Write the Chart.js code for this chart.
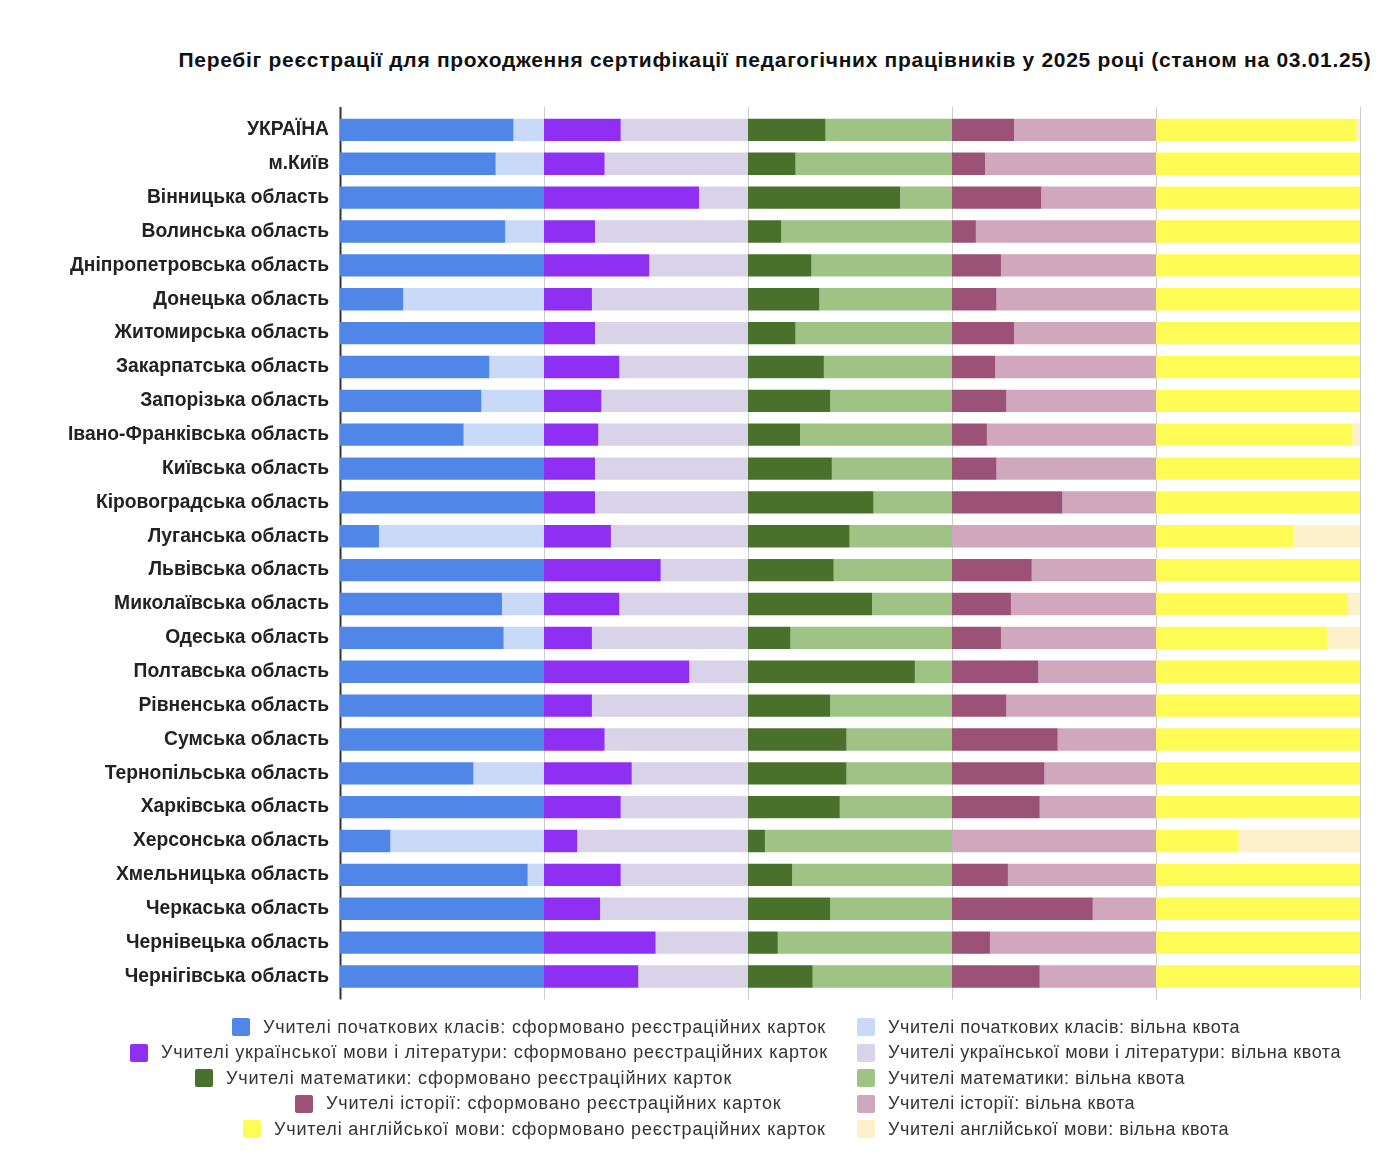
<!DOCTYPE html>
<html lang="uk">
<head>
<meta charset="utf-8">
<script src="https://cdn.jsdelivr.net/npm/chart.js@4/dist/chart.umd.min.js"></script>
<style>
  html, body { margin: 0; padding: 0; background: #fff; }
  body { width: 1394px; height: 1158px; position: relative; overflow: hidden; font-family: "Liberation Sans", Arial, sans-serif; }
  #title { position: absolute; top: 48px; left: 775px; transform: translateX(-50%); white-space: nowrap;
           font: bold 21px "Liberation Sans", Arial, sans-serif; letter-spacing: 0.7px; color: #111; line-height: 24px; }
  #wrap { position: absolute; left: 0; top: 0; width: 1394px; height: 1016px; }
  #legend { position: absolute; left: 0; top: 0; width: 1394px; height: 1158px; pointer-events: none; }
  .li { position: absolute; display: flex; align-items: center; height: 24px; font: 18px "Liberation Sans", Arial, sans-serif; letter-spacing: 0.8px; color: #333; white-space: nowrap; }
  .li.r { letter-spacing: 0.55px; }
  .li .box { width: 18px; height: 18px; border-radius: 2px; margin-right: 13px; flex: none; }
</style>
</head>
<body>
<div id="title">Перебіг реєстрації для проходження сертифікації педагогічних працівників у 2025 році (станом на 03.01.25)</div>
<div id="wrap"><canvas id="c" width="1394" height="1016"></canvas></div>
<div id="legend"></div>
<script>
const categories = ['УКРАЇНА','м.Київ','Вінницька область','Волинська область','Дніпропетровська область','Донецька область','Житомирська область','Закарпатська область','Запорізька область','Івано-Франківська область','Київська область','Кіровоградська область','Луганська область','Львівська область','Миколаївська область','Одеська область','Полтавська область','Рівненська область','Сумська область','Тернопільська область','Харківська область','Херсонська область','Хмельницька область','Черкаська область','Чернівецька область','Чернігівська область'];

const primaryFilled = [85, 76.3, 100, 81, 100, 31, 100, 73.2, 69.3, 60.6, 100, 100, 19.1, 100, 79.4, 80.2, 100, 100, 100, 65.4, 100, 24.7, 92, 100, 100, 100];
const primaryFree   = [15, 23.7, 0, 19, 0, 69, 0, 26.8, 30.7, 39.4, 0, 0, 80.9, 0, 20.6, 19.8, 0, 0, 0, 34.6, 0, 75.3, 8, 0, 0, 0];
const ukrFilled     = [37.6, 29.7, 76, 25, 51.6, 23.5, 25, 36.9, 28.1, 26.6, 25, 25, 32.8, 57.2, 36.9, 23.5, 71.2, 23.5, 29.7, 43, 37.6, 16.3, 37.6, 27.5, 54.7, 46.2];
const ukrFree       = [62.4, 70.3, 24, 75, 48.4, 76.5, 75, 63.1, 71.9, 73.4, 75, 75, 67.2, 42.8, 63.1, 76.5, 28.8, 76.5, 70.3, 57, 62.4, 83.7, 62.4, 72.5, 45.3, 53.8];
const mathFilled    = [38, 23.3, 74.6, 16.3, 31.1, 35, 23.3, 37.2, 40.3, 25.5, 41.1, 61.5, 49.8, 42, 60.8, 20.8, 81.8, 40.3, 48.3, 48.3, 45, 8.3, 21.6, 40.3, 14.6, 31.7];
const mathFree      = [62, 76.7, 25.4, 83.7, 68.9, 65, 76.7, 62.8, 59.7, 74.5, 58.9, 38.5, 50.2, 58, 39.2, 79.2, 18.2, 59.7, 51.7, 51.7, 55, 91.7, 78.4, 59.7, 85.4, 68.3];
const histFilled    = [30.5, 16.2, 43.8, 11.7, 24, 21.8, 30.5, 21.2, 26.6, 17.1, 21.8, 54.1, 0, 39.1, 28.9, 24, 42.3, 26.6, 51.8, 45.3, 43, 0, 27.4, 69, 18.6, 43];
const histFree      = [69.5, 83.8, 56.2, 88.3, 76, 78.2, 69.5, 78.8, 73.4, 82.9, 78.2, 45.9, 100, 60.9, 71.1, 76, 57.7, 73.4, 48.2, 54.7, 57, 100, 72.6, 31, 81.4, 57];
const engFilled     = [98.3, 100, 100, 100, 100, 100, 100, 100, 100, 96.3, 100, 100, 67.3, 100, 94.1, 83.8, 100, 100, 100, 100, 100, 40.5, 100, 100, 100, 100];
const engFree       = [1.7, 0, 0, 0, 0, 0, 0, 0, 0, 3.7, 0, 0, 32.7, 0, 5.9, 16.2, 0, 0, 0, 0, 0, 59.5, 0, 0, 0, 0];

const gridTicks = [0, 100, 200, 300, 400, 500];

const seriesDefs = [
  { label: 'Учителі початкових класів: сформовано реєстраційних карток', data: primaryFilled, color: '#4f86e8' },
  { label: 'Учителі початкових класів: вільна квота', data: primaryFree, color: '#c9daf8' },
  { label: 'Учителі української мови і літератури: сформовано реєстраційних карток', data: ukrFilled, color: '#8f2ff3' },
  { label: 'Учителі української мови і літератури: вільна квота', data: ukrFree, color: '#d9d3e9' },
  { label: 'Учителі математики: сформовано реєстраційних карток', data: mathFilled, color: '#4a712b' },
  { label: 'Учителі математики: вільна квота', data: mathFree, color: '#9ec385' },
  { label: 'Учителі історії: сформовано реєстраційних карток', data: histFilled, color: '#9b5276' },
  { label: 'Учителі історії: вільна квота', data: histFree, color: '#d0a7bd' },
  { label: 'Учителі англійської мови: сформовано реєстраційних карток', data: engFilled, color: '#fffb55' },
  { label: 'Учителі англійської мови: вільна квота', data: engFree, color: '#fdf1cc' }
];

const gridPlugin = {
  id: 'gridExt',
  beforeDatasetsDraw(chart) {
    const ctx = chart.ctx, x = chart.scales.x, a = chart.chartArea;
    ctx.save();
    gridTicks.forEach(v => {
      const px = Math.round(x.getPixelForValue(v)) + 0.5;
      ctx.beginPath();
      ctx.strokeStyle = v === 0 ? '#333333' : '#cccccc';
      ctx.lineWidth = v === 0 ? 2 : 1;
      ctx.moveTo(px, a.top - 6);
      ctx.lineTo(px, a.bottom + 6);
      ctx.stroke();
    });
    ctx.restore();
  }
};

const chart = new Chart(document.getElementById('c'), {
  type: 'bar',
  data: {
    labels: categories,
    datasets: seriesDefs.map(s => ({
      label: s.label, data: s.data, backgroundColor: s.color,
      borderWidth: 0, barPercentage: 0.66, categoryPercentage: 1
    }))
  },
  options: {
    indexAxis: 'y',
    responsive: false,
    devicePixelRatio: 1,
    animation: false,
    layout: { padding: { left: 0, right: 34, top: 113, bottom: 8 } },
    plugins: { legend: { display: false }, title: { display: false }, tooltip: { enabled: false } },
    scales: {
      x: { stacked: true, min: 0, max: 500, display: false },
      y: {
        stacked: true,
        grid: { display: false, drawTicks: false },
        border: { display: false },
        ticks: { padding: 11, color: '#222', font: { family: '"Liberation Sans", Arial, sans-serif', size: 19.3, weight: 'bold' } },
        afterFit(scale) { scale.width = 340; }
      }
    }
  },
  plugins: [gridPlugin]
});

// HTML legend built from the chart's datasets (left column: filled, right column: free quota)
const legendLeftX = [232, 130, 195, 295, 243];
const legendRightX = 857;
const legendTop = 1015, legendRowH = 25.5;
const legendEl = document.getElementById('legend');
const ds = chart.data.datasets;
for (let i = 0; i < ds.length; i += 2) {
  const row = i / 2;
  [i, i + 1].forEach((k, col) => {
    const d = document.createElement('div');
    d.className = 'li' + (col === 1 ? ' r' : '');
    d.style.left = (col === 0 ? legendLeftX[row] : legendRightX) + 'px';
    d.style.top = (legendTop + row * legendRowH) + 'px';
    const b = document.createElement('span');
    b.className = 'box';
    b.style.background = ds[k].backgroundColor;
    const t = document.createElement('span');
    t.textContent = ds[k].label;
    d.appendChild(b); d.appendChild(t);
    legendEl.appendChild(d);
  });
}
</script>
</body>
</html>
